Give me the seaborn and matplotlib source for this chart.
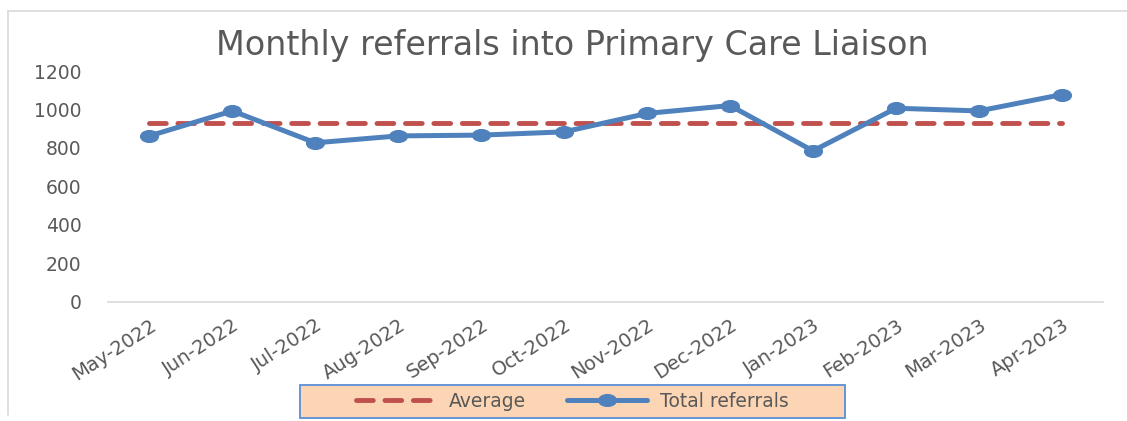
import seaborn as sns
import matplotlib.pyplot as plt
import pandas as pd
from matplotlib.lines import Line2D
from matplotlib.patches import Rectangle
from matplotlib.path import Path
from matplotlib.transforms import Affine2D

# Data
months = ['May-2022', 'Jun-2022', 'Jul-2022', 'Aug-2022', 'Sep-2022', 'Oct-2022',
          'Nov-2022', 'Dec-2022', 'Jan-2023', 'Feb-2023', 'Mar-2023', 'Apr-2023']
total_referrals = [863, 993, 827, 863, 867, 884, 980, 1021, 785, 1007, 993, 1078]
average = [930] * len(months)
y_ticks = [0, 200, 400, 600, 800, 1000, 1200]

df = pd.DataFrame({'Month': months, 'Total referrals': total_referrals, 'Average': average})
df['pos'] = range(len(df))

sns.set_style("white")
plt.rcParams['font.family'] = ['DejaVu Sans']

text_grey = '#595959'
blue = '#4F81BD'
red = '#C0504D'

# the reference is a little stretched sideways, so the markers are wide ovals
oval = Path.unit_circle().transformed(Affine2D().scale(1.5, 1.0))

fig = plt.figure(figsize=(11.27, 4.21), dpi=100)
ax = fig.add_axes([0.0958, 0.2834, 0.979 - 0.0958, 0.831 - 0.2834])

sns.lineplot(data=df, x='pos', y='Average', ax=ax, color=red, linewidth=3.5,
             linestyle=(0, (3.45, 2.4)), dash_capstyle='round', label='Average')
sns.lineplot(data=df, x='pos', y='Total referrals', ax=ax, color=blue, linewidth=3.6,
             marker=oval, markersize=13, markeredgecolor=blue, label='Total referrals')

ax.set_xlim(-0.5, len(months) - 0.5)
ax.set_ylim(0, 1200)
ax.set_yticks(y_ticks)
ax.set_xticks(range(len(months)))
ax.set_xticklabels(months, rotation=33, ha='right', rotation_mode='anchor')
ax.set_xticks([i - 0.5 for i in range(len(months) + 1)], minor=True)
ax.tick_params(axis='x', which='major', length=0, pad=10, labelsize=14, labelcolor=text_grey)
ax.tick_params(axis='x', which='minor', length=6, width=1.2, color='#D9D9D9', direction='out')
ax.tick_params(axis='y', length=0, pad=19, labelsize=13.5, labelcolor=text_grey)
ax.set_xlabel('')
ax.set_ylabel('')

for side in ['left', 'right', 'top']:
    ax.spines[side].set_visible(False)
ax.spines['bottom'].set_color('#D9D9D9')
ax.spines['bottom'].set_linewidth(1.2)

fig.text(0.508, 0.893, 'Monthly referrals into Primary Care Liaison',
         ha='center', va='center', fontsize=24, color=text_grey)

# legend with a separately drawn box (wider padding than matplotlib allows)
handles, labels = ax.get_legend_handles_labels()
ax.get_legend().remove()
fig.add_artist(Rectangle((300 / 1127, 1 - 418 / 421), 545 / 1127, 33 / 421,
                         transform=fig.transFigure, facecolor='#FCD5B4',
                         edgecolor='#5B8FD6', linewidth=1.3, zorder=4))
leg = fig.legend(handles, labels, loc='center', bbox_to_anchor=(572.5 / 1127, 1 - 401.5 / 421),
                 ncol=2, frameon=False, fontsize=13.5, handlelength=4.27,
                 columnspacing=2.2, handletextpad=0.7)
leg.set_zorder(5)
for t in leg.get_texts():
    t.set_color(text_grey)

# chart area border (left and top edges visible in the reference)
fig.add_artist(Line2D([8 / 1127, 8 / 1127], [6 / 421, 1 - 11 / 421],
                      transform=fig.transFigure, color='#D9D9D9', linewidth=1.2))
fig.add_artist(Line2D([8 / 1127, 1.0], [1 - 11 / 421, 1 - 11 / 421],
                      transform=fig.transFigure, color='#D9D9D9', linewidth=1.2))

plt.savefig('out.png', dpi=100)
